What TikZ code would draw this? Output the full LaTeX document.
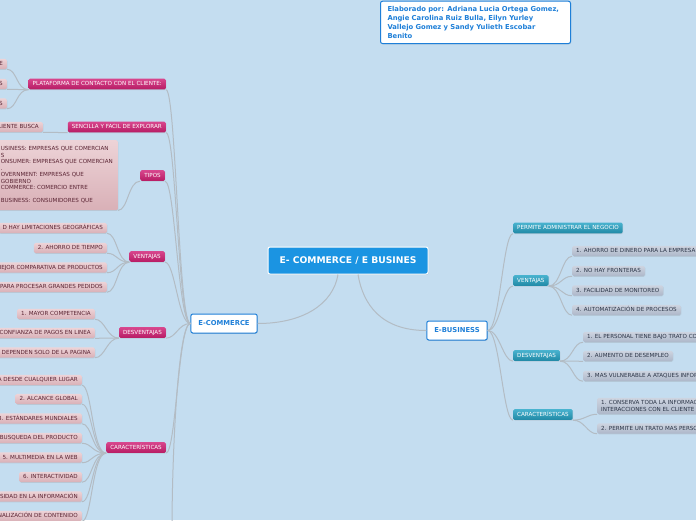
\documentclass[tikz,border=0pt]{standalone}
\usepackage{fontspec}
\setmainfont{DejaVu Sans}
\usetikzlibrary{shadows}

\definecolor{bgblue}{HTML}{C4DDF0}
\definecolor{linkgray}{HTML}{B3BCC4}
\definecolor{hubblue}{HTML}{1B94E2}
\definecolor{ecblue}{HTML}{1E7FD8}
\definecolor{pinktop}{HTML}{D8478E}
\definecolor{pinkbot}{HTML}{B71B63}
\definecolor{rosetop}{HTML}{EDD3D7}
\definecolor{rosebot}{HTML}{D9B0B7}
\definecolor{rosetext}{HTML}{5A2433}
\definecolor{tealtop}{HTML}{49B3CF}
\definecolor{tealbot}{HTML}{2088A5}
\definecolor{greytop}{HTML}{CDD4E0}
\definecolor{greybot}{HTML}{ADB7C9}
\definecolor{greytext}{HTML}{2A3446}

\begin{document}
\begin{tikzpicture}[
  x=1pt, y=-1pt,
  link/.style={draw=linkgray, line width=1pt},
  hub/.style={draw=white, line width=1pt, fill=hubblue, rounded corners=2pt,
    text=white, font=\fontsize{9.2}{10}\selectfont\bfseries,
    minimum width=160pt, minimum height=27pt,
    drop shadow={shadow xshift=0.6pt, shadow yshift=-0.8pt, opacity=0.25}},
  branch/.style={draw=ecblue, line width=1pt, fill=white, rounded corners=2pt,
    text=ecblue, font=\fontsize{6.8}{7}\selectfont\bfseries,
    minimum height=19pt, inner xsep=7.5pt,
    drop shadow={shadow xshift=0.6pt, shadow yshift=-0.8pt, opacity=0.25}},
  credit/.style={draw=ecblue, line width=1pt, fill=white, rounded corners=2pt,
    text=ecblue, font=\fontsize{6.8}{9}\selectfont\bfseries, align=left,
    text width=176pt, inner xsep=7pt, inner ysep=5pt,
    drop shadow={shadow xshift=0.6pt, shadow yshift=-0.8pt, opacity=0.25}},
  topic/.style={top color=pinktop, bottom color=pinkbot, rounded corners=1.5pt,
    text=white, font=\fontsize{5.6}{6.5}\selectfont,
    text height=4.1pt, text depth=0.6pt, inner ysep=3.1pt, inner xsep=4pt,
    drop shadow={shadow xshift=0.5pt, shadow yshift=-0.7pt, opacity=0.2}},
  subtopic/.style={topic, top color=tealtop, bottom color=tealbot},
  leaf/.style={top color=rosetop, bottom color=rosebot, rounded corners=1.5pt,
    text=rosetext, font=\fontsize{5.6}{6.5}\selectfont,
    text height=4.1pt, text depth=0.6pt, inner ysep=2.7pt, inner xsep=4pt,
    drop shadow={shadow xshift=0.5pt, shadow yshift=-0.7pt, opacity=0.2}},
  greyleaf/.style={leaf, top color=greytop, bottom color=greybot, text=greytext}
]
  \fill[bgblue] (0,0) rectangle (696,520);
  \useasboundingbox (0,0) rectangle (696,520);
  \clip (0,0) rectangle (696,520);

  % centre and main branches
  \node[hub] (hub) at (348,260.5) {E- COMMERCE / E BUSINES};
  \node[branch] (ecom) at (224,323.5) {E-COMMERCE};
  \node[branch] (ebus) at (457,330.5) {E-BUSINESS};
  \node[credit, anchor=south west] (credit) at (380,44)
    {Elaborado por: Adriana Lucia Ortega Gomez,\\
     Angie Carolina Ruiz Bulla, Eilyn Yurley\\
     Vallejo Gomez y Sandy Yulieth Escobar\\
     Benito};

  % e-commerce topics
  \node[topic, anchor=east] (plat) at (166,84) {PLATAFORMA DE CONTACTO CON EL CLIENTE:};
  \node[topic, anchor=east] (easy) at (166,127) {SENCILLA Y FACIL DE EXPLORAR};
  \node[topic, anchor=east] (tipos) at (165,175.5) {TIPOS};
  \node[topic, anchor=east] (ventl) at (165,256.5) {VENTAJAS};
  \node[topic, anchor=east] (desvl) at (166,332.5) {DESVENTAJAS};
  \node[topic, anchor=east] (caractl) at (166,447.5) {CARACTERÍSTICAS};
  \coordinate (lower) at (172,530);

  \node[leaf, anchor=east] (plat1) at (7,64) {E};
  \node[leaf, anchor=east] (plat2) at (7,84) {S};
  \node[leaf, anchor=east] (plat3) at (7,103.5) {S};
  \node[leaf, anchor=east] (easy1) at (43,127) {LIENTE BUSCA};
  \node[leaf, anchor=north east, align=left, minimum height=70pt, text width=113pt,
    text height=, text depth=] (tipos1) at (118,140)
    {USINESS: EMPRESAS QUE COMERCIAN\\
     S\\
     ONSUMER: EMPRESAS QUE COMERCIAN\\
     .\\
     OVERNMENT: EMPRESAS QUE\\
     GOBIERNO\\
     COMMERCE: COMERCIO ENTRE\\
     \mbox{}\\
     BUSINESS: CONSUMIDORES QUE};

  \node[leaf, anchor=east] (ventl1) at (107,228) {D HAY LIMITACIONES GEOGRÁFICAS};
  \node[leaf, anchor=east] (ventl2) at (107,248) {2. AHORRO DE TIEMPO};
  \node[leaf, anchor=east] (ventl3) at (107,267.5) {IEJOR COMPARATIVA DE PRODUCTOS};
  \node[leaf, anchor=east] (ventl4) at (107,287) {PARA PROCESAR GRANDES PEDIDOS};

  \node[leaf, anchor=east] (desvl1) at (95,314) {1. MAYOR COMPETENCIA};
  \node[leaf, anchor=east] (desvl2) at (95,333) {CONFIANZA DE PAGOS EN LINEA};
  \node[leaf, anchor=east] (desvl3) at (95,352.5) {S DEPENDEN SOLO DE LA PAGINA};

  \node[leaf, anchor=east] (car1) at (82,380) {A DESDE CUALQUIER LUGAR};
  \node[leaf, anchor=east] (car2) at (82,399) {2. ALCANCE GLOBAL};
  \node[leaf, anchor=east] (car3) at (82,418.5) {3. ESTÁNDARES MUNDIALES};
  \node[leaf, anchor=east] (car4) at (82,438) {BUSQUEDA DEL PRODUCTO};
  \node[leaf, anchor=east] (car5) at (82,457.5) {5. MULTIMEDIA EN LA WEB};
  \node[leaf, anchor=east] (car6) at (82,477) {6. INTERACTIVIDAD};
  \node[leaf, anchor=east] (car7) at (82,496.5) {SIDAD EN LA INFORMACIÓN};
  \node[leaf, anchor=east] (car8) at (82,516) {NALIZACIÓN DE CONTENIDO};

  % e-business topics
  \node[subtopic, anchor=west] (admin) at (513,228) {PERMITE ADMINISTRAR EL NEGOCIO};
  \node[subtopic, anchor=west] (ventr) at (513,280.5) {VENTAJAS};
  \node[subtopic, anchor=west] (desvr) at (513,355.5) {DESVENTAJAS};
  \node[subtopic, anchor=west] (caractr) at (513,414.5) {CARACTERÍSTICAS};

  \node[greyleaf, anchor=west] (ventr1) at (572,251) {1. AHORRO DE DINERO PARA LA EMPRESA};
  \node[greyleaf, anchor=west] (ventr2) at (572,271) {2. NO HAY FRONTERAS};
  \node[greyleaf, anchor=west] (ventr3) at (572,290.5) {3. FACILIDAD DE MONITOREO};
  \node[greyleaf, anchor=west] (ventr4) at (572,310) {4. AUTOMATIZACIÓN DE PROCESOS};

  \node[greyleaf, anchor=west] (desvr1) at (583,337) {1. EL PERSONAL TIENE BAJO TRATO CO};
  \node[greyleaf, anchor=west] (desvr2) at (583,356) {2. AUMENTO DE DESEMPLEO};
  \node[greyleaf, anchor=west] (desvr3) at (583,376) {3. MAS VULNERABLE A ATAQUES INFOR};

  \node[greyleaf, anchor=west, align=left, text height=, text depth=] (carr1) at (597,406)
    {1. CONSERVA TODA LA INFORMAC\\INTERACCIONES CON EL CLIENTE};
  \node[greyleaf, anchor=west] (carr2) at (597,428.5) {2. PERMITE UN TRATO MAS PERSO};

  % connectors
  \draw[link] ([xshift=-10pt]hub.south) .. controls +(-5,30) and +(45,0) .. (ecom.east);
  \draw[link] ([xshift=10pt]hub.south) .. controls +(5,30) and +(-45,0) .. (ebus.west);

  \draw[link] (ecom.west) .. controls +(-12,0) and +(10,0) .. (plat.south east);
  \draw[link] (ecom.west) .. controls +(-12,0) and +(10,0) .. (easy.south east);
  \draw[link] (ecom.west) .. controls +(-12,0) and +(10,0) .. (tipos.south east);
  \draw[link] (ecom.west) .. controls +(-12,0) and +(10,0) .. (ventl.south east);
  \draw[link] (ecom.west) .. controls +(-12,0) and +(10,0) .. (desvl.south east);
  \draw[link] (ecom.west) .. controls +(-12,0) and +(10,0) .. (caractl.south east);
  \draw[link] (ecom.west) .. controls +(-12,0) and +(0,-80) .. (lower);

  \draw[link] (plat.south west) .. controls +(-12,0) and +(10,0) .. (plat1.south east);
  \draw[link] (plat.south west) .. controls +(-12,0) and +(10,0) .. (plat2.south east);
  \draw[link] (plat.south west) .. controls +(-12,0) and +(10,0) .. (plat3.south east);
  \draw[link] (easy.south west) -- (easy1.south east);
  \draw[link] (tipos.south west) .. controls +(-12,0) and +(10,0) .. (tipos1.south east);

  \draw[link] (ventl.south west) .. controls +(-12,0) and +(10,0) .. (ventl1.south east);
  \draw[link] (ventl.south west) .. controls +(-12,0) and +(10,0) .. (ventl2.south east);
  \draw[link] (ventl.south west) .. controls +(-12,0) and +(10,0) .. (ventl3.south east);
  \draw[link] (ventl.south west) .. controls +(-12,0) and +(10,0) .. (ventl4.south east);

  \draw[link] (desvl.south west) .. controls +(-12,0) and +(10,0) .. (desvl1.south east);
  \draw[link] (desvl.south west) .. controls +(-12,0) and +(10,0) .. (desvl2.south east);
  \draw[link] (desvl.south west) .. controls +(-12,0) and +(10,0) .. (desvl3.south east);

  \draw[link] (caractl.south west) .. controls +(-14,0) and +(10,0) .. (car1.south east);
  \draw[link] (caractl.south west) .. controls +(-14,0) and +(10,0) .. (car2.south east);
  \draw[link] (caractl.south west) .. controls +(-14,0) and +(10,0) .. (car3.south east);
  \draw[link] (caractl.south west) .. controls +(-14,0) and +(10,0) .. (car4.south east);
  \draw[link] (caractl.south west) .. controls +(-14,0) and +(10,0) .. (car5.south east);
  \draw[link] (caractl.south west) .. controls +(-14,0) and +(10,0) .. (car6.south east);
  \draw[link] (caractl.south west) .. controls +(-14,0) and +(10,0) .. (car7.south east);
  \draw[link] (caractl.south west) .. controls +(-14,0) and +(10,0) .. (car8.south east);

  \draw[link] (ebus.east) .. controls +(12,0) and +(-10,0) .. (admin.south west);
  \draw[link] (ebus.east) .. controls +(12,0) and +(-10,0) .. (ventr.south west);
  \draw[link] (ebus.east) .. controls +(12,0) and +(-10,0) .. (desvr.south west);
  \draw[link] (ebus.east) .. controls +(12,0) and +(-10,0) .. (caractr.south west);

  \draw[link] (ventr.south east) .. controls +(12,0) and +(-10,0) .. (ventr1.south west);
  \draw[link] (ventr.south east) .. controls +(12,0) and +(-10,0) .. (ventr2.south west);
  \draw[link] (ventr.south east) .. controls +(12,0) and +(-10,0) .. (ventr3.south west);
  \draw[link] (ventr.south east) .. controls +(12,0) and +(-10,0) .. (ventr4.south west);

  \draw[link] (desvr.south east) .. controls +(12,0) and +(-10,0) .. (desvr1.south west);
  \draw[link] (desvr.south east) .. controls +(12,0) and +(-10,0) .. (desvr2.south west);
  \draw[link] (desvr.south east) .. controls +(12,0) and +(-10,0) .. (desvr3.south west);

  \draw[link] (caractr.south east) .. controls +(12,0) and +(-10,0) .. (carr1.south west);
  \draw[link] (caractr.south east) .. controls +(12,0) and +(-10,0) .. (carr2.south west);
\end{tikzpicture}
\end{document}
